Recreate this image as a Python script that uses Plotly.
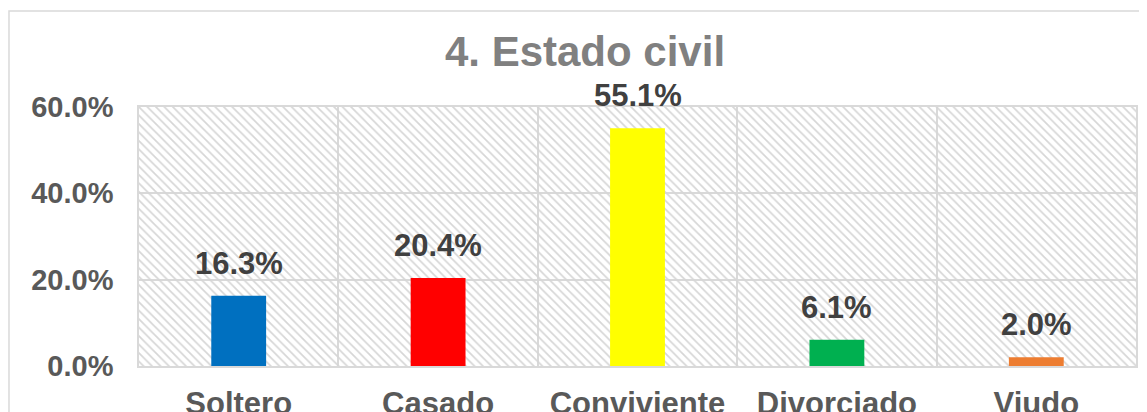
import plotly.graph_objects as go

categories = ["Soltero", "Casado", "Conviviente", "Divorciado", "Viudo"]
values = [16.3, 20.4, 55.1, 6.1, 2.0]
bar_colors = ["#0070C0", "#FF0000", "#FFFF00", "#00B050", "#ED7D31"]
y_ticks = [0, 20, 40, 60]
title_text = "4. Estado civil"

FONT = "Liberation Sans, Arial, sans-serif"

fig = go.Figure()

# hatched plot-area background (decoration)
fig.add_trace(go.Bar(
    x=[categories[2]], y=[max(y_ticks)], width=[len(categories)],
    marker=dict(color="#d6d6d6", line=dict(width=0),
                pattern=dict(shape="\\", size=6, solidity=0.28, fillmode="replace")),
    hoverinfo="skip", showlegend=False,
))

fig.add_trace(go.Bar(
    x=categories, y=values, width=0.275,
    marker=dict(color=bar_colors, line=dict(width=0)),
    showlegend=False,
))

for c, v in zip(categories, values):
    fig.add_annotation(
        x=c, y=v, text=f"{v:.1f}%", showarrow=False, yanchor="bottom",
        yshift=13, font=dict(family=FONT, size=31, color="#404040", weight="bold"),
    )

# outer chart border (decoration)
fig.add_shape(type="rect", xref="paper", yref="paper",
              x0=-0.1304, x1=1.02, y0=-0.25, y1=1.3707,
              line=dict(color="#d9d9d9", width=1.5), fillcolor="rgba(0,0,0,0)", layer="below")

fig.update_layout(
    width=1139, height=404,
    margin=dict(l=131, r=11, t=99, b=46),
    paper_bgcolor="white", plot_bgcolor="white",
    barmode="overlay",
    title=dict(text=title_text, x=577/1139, xanchor="center", y=1 - 43/404, yanchor="middle",
               font=dict(family=FONT, size=42, color="#808080", weight="bold")),
    xaxis=dict(
        type="category", categoryorder="array", categoryarray=categories,
        range=[-0.5, len(categories) - 0.5], automargin=False,
        tickson="boundaries", showgrid=True, gridcolor="#d9d9d9", gridwidth=1.5,
        showline=True, linecolor="#d9d9d9", linewidth=1.5, mirror=True,
        ticks="", ticklabelstandoff=9,
        tickfont=dict(family=FONT, size=31, color="#595959", weight="bold"),
    ),
    yaxis=dict(
        range=[0, 60], tickvals=y_ticks, ticktext=[f"{t:.1f}%" for t in y_ticks],
        automargin=False,
        showgrid=True, gridcolor="#d9d9d9", gridwidth=1.5, zeroline=False,
        showline=True, linecolor="#d9d9d9", linewidth=1.5, mirror=True,
        ticks="", ticklabelstandoff=18,
        tickfont=dict(family=FONT, size=29, color="#595959", weight="bold"),
    ),
)

fig.write_html("out.html")
